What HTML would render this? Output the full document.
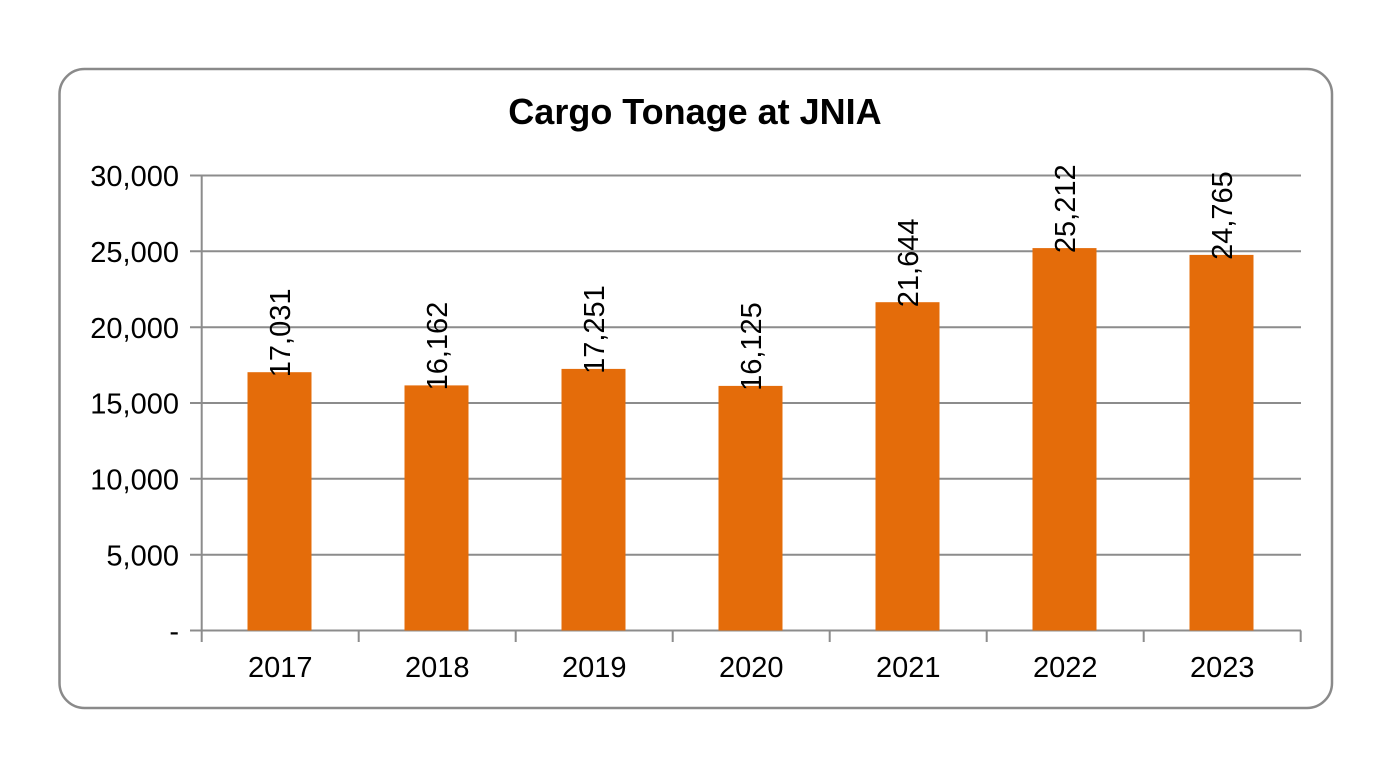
<!DOCTYPE html>
<html>
<head>
<meta charset="utf-8">
<style>
  html, body { margin: 0; padding: 0; background: #ffffff; }
  svg { display: block; }
  text { font-family: "Liberation Sans", Arial, sans-serif; fill: #000; }
</style>
</head>
<body>
<svg width="1380" height="776" viewBox="0 0 1380 776" xmlns="http://www.w3.org/2000/svg">
  <rect x="0" y="0" width="1380" height="776" fill="#ffffff"/>
  <!-- chart border -->
  <rect x="59.5" y="69" width="1272.5" height="639" rx="25" ry="25" fill="#ffffff" stroke="#8a8a8a" stroke-width="2.5"/>

  <!-- title -->
  <text x="695" y="124" font-size="36" font-weight="bold" text-anchor="middle">Cargo Tonage at JNIA</text>

  <!-- gridlines -->
  <g stroke="#8c8c8c" stroke-width="2">
    <line x1="190" y1="175.5" x2="1301" y2="175.5"/>
    <line x1="190" y1="251.3" x2="1301" y2="251.3"/>
    <line x1="190" y1="327.2" x2="1301" y2="327.2"/>
    <line x1="190" y1="403" x2="1301" y2="403"/>
    <line x1="190" y1="478.8" x2="1301" y2="478.8"/>
    <line x1="190" y1="554.7" x2="1301" y2="554.7"/>
    <line x1="190" y1="630.5" x2="1301" y2="630.5"/>
    <!-- y axis -->
    <line x1="201.7" y1="175.5" x2="201.7" y2="642"/>
    <!-- x ticks -->
    <line x1="358.7" y1="630.5" x2="358.7" y2="642"/>
    <line x1="515.7" y1="630.5" x2="515.7" y2="642"/>
    <line x1="672.7" y1="630.5" x2="672.7" y2="642"/>
    <line x1="829.7" y1="630.5" x2="829.7" y2="642"/>
    <line x1="986.7" y1="630.5" x2="986.7" y2="642"/>
    <line x1="1143.7" y1="630.5" x2="1143.7" y2="642"/>
    <line x1="1300.7" y1="630.5" x2="1300.7" y2="642"/>
  </g>

  <!-- y labels -->
  <g font-size="29" text-anchor="end">
    <text x="179" y="186">30,000</text>
    <text x="179" y="262">25,000</text>
    <text x="179" y="338">20,000</text>
    <text x="179" y="413.5">15,000</text>
    <text x="179" y="489.5">10,000</text>
    <text x="179" y="565.5">5,000</text>
    <text x="179" y="641">-</text>
  </g>

  <!-- bars -->
  <g fill="#e46c0a">
    <rect x="247.5" y="372.2" width="64" height="258.3"/>
    <rect x="404.5" y="385.4" width="64" height="245.1"/>
    <rect x="561.5" y="368.9" width="64" height="261.6"/>
    <rect x="718.5" y="385.9" width="64" height="244.6"/>
    <rect x="875.5" y="302.2" width="64" height="328.3"/>
    <rect x="1032.5" y="248.1" width="64" height="382.4"/>
    <rect x="1189.5" y="254.9" width="64" height="375.6"/>
  </g>

  <!-- data labels -->
  <g font-size="29">
    <text transform="translate(290.2,377.2) rotate(-90)">17,031</text>
    <text transform="translate(447.2,390.4) rotate(-90)">16,162</text>
    <text transform="translate(604.2,373.9) rotate(-90)">17,251</text>
    <text transform="translate(761.2,390.9) rotate(-90)">16,125</text>
    <text transform="translate(918.2,307.2) rotate(-90)">21,644</text>
    <text transform="translate(1075.2,253.1) rotate(-90)">25,212</text>
    <text transform="translate(1232.2,259.9) rotate(-90)">24,765</text>
  </g>

  <!-- x labels -->
  <g font-size="29" text-anchor="middle">
    <text x="280.2" y="677">2017</text>
    <text x="437.2" y="677">2018</text>
    <text x="594.2" y="677">2019</text>
    <text x="751.2" y="677">2020</text>
    <text x="908.2" y="677">2021</text>
    <text x="1065.2" y="677">2022</text>
    <text x="1222.2" y="677">2023</text>
  </g>
</svg>
</body>
</html>
